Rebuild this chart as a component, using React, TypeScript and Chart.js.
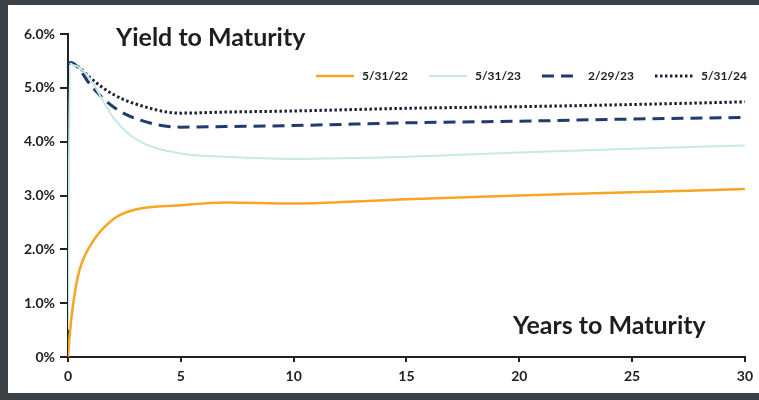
import React, { useEffect, useRef } from "react";
import { Chart, registerables } from "chart.js";

Chart.register(...registerables);

const maturities = [0, 0.083, 0.25, 0.5, 1, 2, 3, 5, 7, 10, 15, 20, 25, 30];
const yields2022 = [0, 0.45, 1.05, 1.6, 2.08, 2.56, 2.74, 2.82, 2.87, 2.85, 2.93, 3.0, 3.06, 3.12];
const yields2023 = [0.5, 5.45, 5.42, 5.38, 5.15, 4.45, 4.05, 3.78, 3.72, 3.68, 3.72, 3.8, 3.87, 3.93];
const yieldsFeb = [5.47, 5.47, 5.45, 5.35, 5.05, 4.65, 4.43, 4.27, 4.28, 4.3, 4.35, 4.38, 4.42, 4.45];
const yields2024 = [5.45, 5.45, 5.44, 5.38, 5.18, 4.88, 4.7, 4.53, 4.55, 4.57, 4.62, 4.65, 4.69, 4.74];
const seriesLabels = ["5/31/22", "5/31/23", "2/29/23", "5/31/24"];
const xTicks = [0, 5, 10, 15, 20, 25, 30];
const yTicks = [0, 1, 2, 3, 4, 5, 6];
const chartTitle = "Yield to Maturity";
const xAxisTitle = "Years to Maturity";

const FONT = "Lato, 'Open Sans', sans-serif";

const toPoints = (vals: number[]) => maturities.map((x, i) => ({ x, y: vals[i] }));

const framePlugin = {
  id: "frame",
  beforeDraw(chart: any) {
    const { ctx, width, height } = chart;
    ctx.save();
    ctx.fillStyle = "#3b4247";
    ctx.fillRect(0, 0, width, height);
    ctx.fillStyle = "#ffffff";
    ctx.fillRect(8, 5, width - 8, 388);
    ctx.restore();
  },
  afterDraw(chart: any) {
    const { ctx } = chart;
    ctx.save();
    ctx.fillStyle = "#1e1e1e";
    ctx.textBaseline = "middle";
    ctx.textAlign = "left";
    ctx.font = `bold 25px ${FONT}`;
    ctx.fillText(chartTitle, 116, 38);
    ctx.font = `bold 25px ${FONT}`;
    ctx.fillText(xAxisTitle, 513, 326);

    // legend
    ctx.font = `bold 12px ${FONT}`;
    let x = 316;
    const y = 76;
    chart.data.datasets.forEach((ds: any) => {
      ctx.save();
      ctx.strokeStyle = ds.borderColor;
      ctx.lineWidth = ds.borderWidth;
      ctx.setLineDash(ds.borderDash || []);
      ctx.beginPath();
      ctx.moveTo(x, y);
      ctx.lineTo(x + 38, y);
      ctx.stroke();
      ctx.restore();
      x += 46;
      ctx.fillStyle = "#1e1e1e";
      ctx.fillText(ds.label, x, y);
      x += ctx.measureText(ds.label).width + 21;
    });
    ctx.restore();
  },
};

export default function App() {
  const ref = useRef<HTMLCanvasElement>(null);

  useEffect(() => {
    document.body.style.margin = "0";
    const chart = new Chart(ref.current as HTMLCanvasElement, {
      type: "line",
      data: {
        datasets: [
          {
            label: seriesLabels[0],
            data: toPoints(yields2022),
            borderColor: "#f6a623",
            borderWidth: 2.5,
            pointRadius: 0,
            cubicInterpolationMode: "monotone",
          },
          {
            label: seriesLabels[1],
            data: toPoints(yields2023),
            borderColor: "#c4e9e6",
            borderWidth: 2,
            pointRadius: 0,
            cubicInterpolationMode: "monotone",
          },
          {
            label: seriesLabels[2],
            data: toPoints(yieldsFeb),
            borderColor: "#1f3b70",
            borderWidth: 3,
            borderDash: [12, 7],
            pointRadius: 0,
            cubicInterpolationMode: "monotone",
          },
          {
            label: seriesLabels[3],
            data: toPoints(yields2024),
            borderColor: "#1a2238",
            borderWidth: 3,
            borderDash: [2.5, 2.5],
            pointRadius: 0,
            cubicInterpolationMode: "monotone",
          },
        ],
      },
      options: {
        animation: false,
        responsive: false,
        maintainAspectRatio: false,
        layout: { padding: { left: 8, top: 34, right: 14, bottom: 7 } },
        plugins: { legend: { display: false }, title: { display: false }, tooltip: { enabled: false } },
        scales: {
          x: {
            type: "linear",
            min: 0,
            max: 30,
            afterBuildTicks: (s: any) => {
              s.ticks = xTicks.map((v) => ({ value: v }));
            },
            afterFit: (s: any) => {
              s.height = 36;
            },
            ticks: { color: "#1e1e1e", font: { family: FONT, size: 14, weight: "bold" }, padding: 6 },
            grid: { drawOnChartArea: false, drawTicks: true, tickLength: 5, color: "#222", lineWidth: 2 },
            border: { color: "#222", width: 2 },
          },
          y: {
            min: 0,
            max: 6,
            afterBuildTicks: (s: any) => {
              s.ticks = yTicks.map((v) => ({ value: v }));
            },
            afterFit: (s: any) => {
              s.width = 60;
            },
            ticks: {
              color: "#1e1e1e",
              font: { family: FONT, size: 14, weight: "bold" },
              padding: 5,
              callback: (v: any) => (v === 0 ? "0%" : Number(v).toFixed(1) + "%"),
            },
            grid: { drawOnChartArea: false, drawTicks: true, tickLength: 8, color: "#222", lineWidth: 2 },
            border: { color: "#222", width: 2 },
          },
        },
      },
      plugins: [framePlugin],
    } as any);
    return () => chart.destroy();
  }, []);

  return (
    <div style={{ position: "absolute", left: 0, top: 0, width: 759, height: 400 }}>
      <canvas ref={ref} width={759} height={400} style={{ width: 759, height: 400 }} />
    </div>
  );
}
